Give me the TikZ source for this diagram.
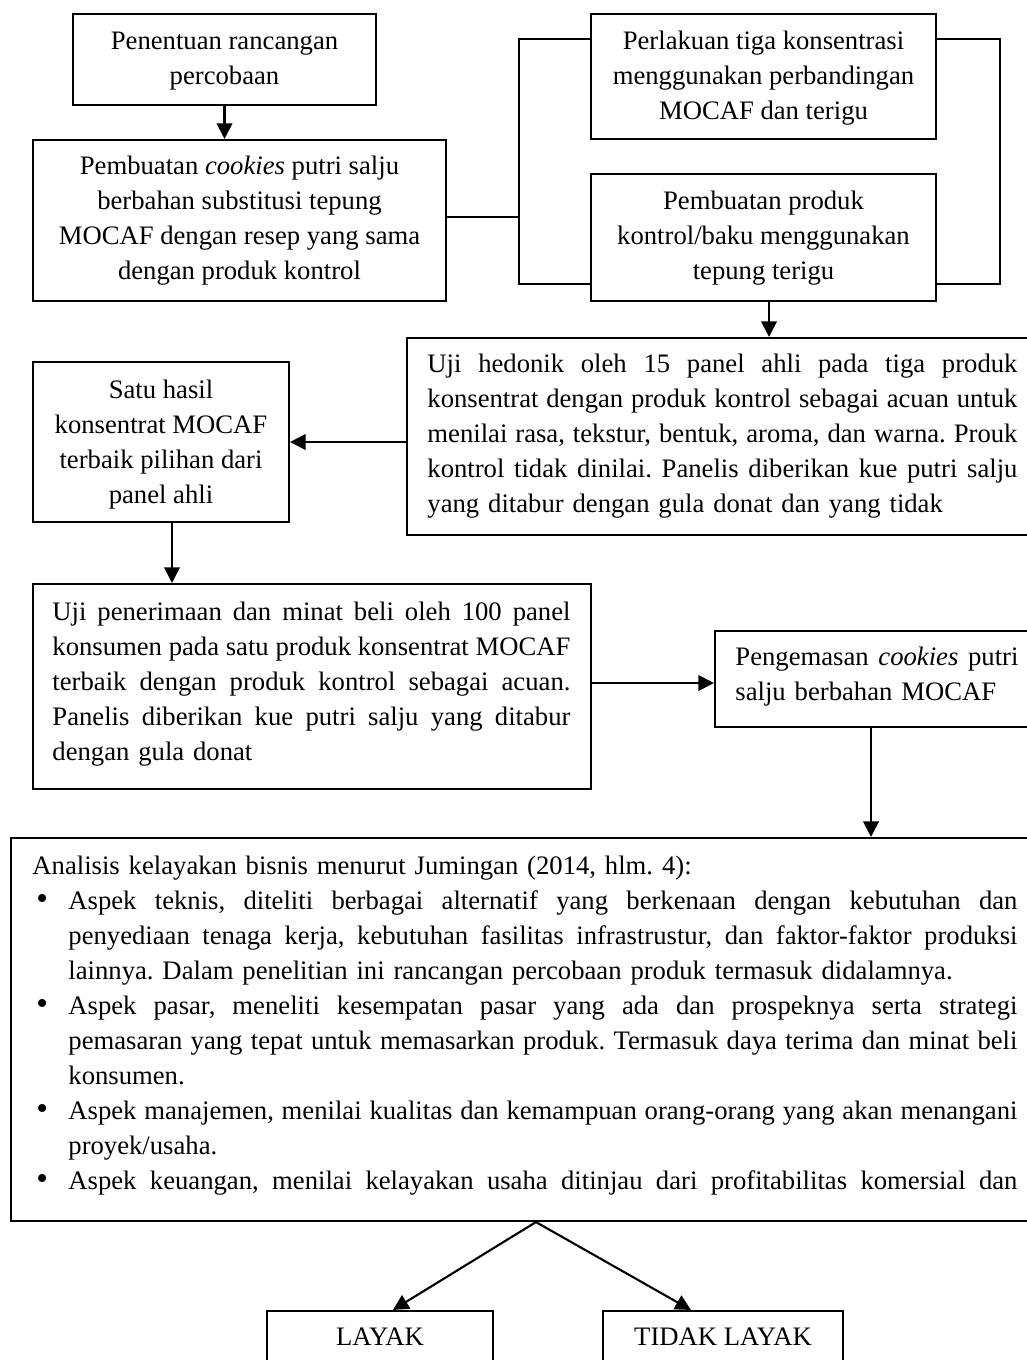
\documentclass[tikz,border=0pt]{standalone}
\usepackage{fontspec}
\setmainfont{Liberation Serif}
\usetikzlibrary{arrows.meta,fit,calc}
\frenchspacing
\newlength{\jw}
\newlength{\bind}\setlength{\bind}{16.2pt}
\newcommand{\jsp}{\spaceskip=0.25em plus 3em minus 0.1em\relax}
\newcommand{\jl}[1]{\hbox to \jw{\jsp #1}\par}
\newcommand{\bdot}{\raisebox{0.2pt}{\fontsize{15pt}{15pt}\selectfont •}}
\newcommand{\bfirst}[1]{\hbox to \jw{\hbox to \bind{\hspace{1.8pt}\bdot\hss}\jsp #1}\par}
\newcommand{\bmid}[1]{\hbox to \jw{\hspace*{\bind}\jsp #1}\par}
\newcommand{\blast}[1]{\hbox to \jw{\hspace*{\bind}#1\hfill}\par}
\begin{document}
\begin{tikzpicture}[x=0.45pt,y=-0.45pt,
 box/.style={draw,line width=0.95pt,inner sep=0pt},
 txt/.style={inner sep=0pt,font=\fontsize{12pt}{15.75pt}\selectfont\setlength{\parskip}{0pt}},
 link/.style={line width=0.95pt},
 arr/.style={line width=0.95pt,-{Triangle[length=7pt,width=7pt]}}]
\useasboundingbox (0,0) rectangle (1027,1360);
\fill[white] (0,0) rectangle (1027,1360);
\clip (0,0) rectangle (1027,1360);
% boxes
\node[box,fit={(73,14)(376,105)}] (b1) {};
\node[box,fit={(33,140)(446,301)}] (b2) {};
\node[box,fit={(591,14)(936,139)}] (b3) {};
\node[box,fit={(591,174)(936,301)}] (b4) {};
\node[box,fit={(407,338)(1040,535)}] (hed) {};
\node[box,fit={(33,362)(289,522)}] (satu) {};
\node[box,fit={(33,584)(591,789)}] (uji) {};
\node[box,fit={(715,631)(1040,727)}] (peng) {};
\node[box,fit={(11,838)(1040,1221)}] (anal) {};
\node[box,fit={(267,1311)(493,1366)}] (layak) {};
\node[box,fit={(603,1311)(843,1366)}] (tlayak) {};
% texts
\node[txt,align=center] (b1t) at (224.5,59.5) {\strut Penentuan rancangan\\percobaan\strut};
\node[txt,align=center] (b2t) at (239.5,220.25) {\strut Pembuatan \textit{cookies} putri salju\\berbahan substitusi tepung\\MOCAF dengan resep yang sama\\dengan produk kontrol\strut};
\node[txt,align=center] (b3t) at (763.5,77.7) {\strut Perlakuan tiga konsentrasi\\menggunakan perbandingan\\MOCAF dan terigu\strut};
\node[txt,align=center] (b4t) at (763.5,237) {\strut Pembuatan produk\\kontrol/baku menggunakan\\tepung terigu\strut};
\node[txt,text width=265.5pt,anchor=west] (hedt) at (427,435) {\setlength{\jw}{265.5pt}\strut\jl{Uji hedonik oleh 15 panel ahli pada tiga produk}\jl{konsentrat dengan produk kontrol sebagai acuan untuk}\jl{menilai rasa, tekstur, bentuk, aroma, dan warna. Prouk}\jl{kontrol tidak dinilai. Panelis diberikan kue putri salju}yang ditabur dengan gula donat dan yang tidak\strut};
\node[txt,align=center] (satut) at (161,444) {\strut Satu hasil\\konsentrat MOCAF\\terbaik pilihan dari\\panel ahli\strut};
\node[txt,text width=233.1pt,anchor=west] (ujit) at (52,683) {\setlength{\jw}{233.1pt}\strut\jl{Uji penerimaan dan minat beli oleh 100 panel}\jl{konsumen pada satu produk konsentrat MOCAF}\jl{terbaik dengan produk kontrol sebagai acuan.}\jl{Panelis diberikan kue putri salju yang ditabur}dengan gula donat\strut};
\node[txt,text width=127.35pt,anchor=west] (pengt) at (735,675.5) {\setlength{\jw}{127.35pt}\strut\jl{Pengemasan \textit{cookies} putri}salju berbahan MOCAF\strut};
\node[txt,text width=443.25pt,anchor=west] (analt) at (32,1025) {\setlength{\jw}{443.25pt}\strut Analisis kelayakan bisnis menurut Jumingan (2014, hlm. 4):\par
\bfirst{Aspek teknis, diteliti berbagai alternatif yang berkenaan dengan kebutuhan dan}
\bmid{penyediaan tenaga kerja, kebutuhan fasilitas infrastrustur, dan faktor-faktor produksi}
\blast{lainnya. Dalam penelitian ini rancangan percobaan produk termasuk didalamnya.}
\bfirst{Aspek pasar, meneliti kesempatan pasar yang ada dan prospeknya serta strategi}
\bmid{pemasaran yang tepat untuk memasarkan produk. Termasuk daya terima dan minat beli}
\blast{konsumen.}
\bfirst{Aspek manajemen, menilai kualitas dan kemampuan orang-orang yang akan menangani}
\blast{proyek/usaha.}
\bfirst{Aspek keuangan, menilai kelayakan usaha ditinjau dari profitabilitas komersial dan\strut}};
\node[txt] (layakt) at (380,1337) {LAYAK};
\node[txt] (tlayakt) at (723,1337) {TIDAK LAYAK};
% connectors
\draw[arr] (b1.south) -- (b1.south |- b2.north);
\coordinate (L1) at (519,39);
\coordinate (L2) at (519,284);
\coordinate (LM) at (519,217);
\coordinate (R1) at (1000,39);
\coordinate (R2) at (1000,284);
\draw[link] (b2.east |- LM) -- (LM);
\draw[link] (b3.west |- L1) -- (L1) -- (L2) -- (b4.west |- L2);
\draw[link] (b3.east |- R1) -- (R1) -- (R2) -- (b4.east |- R2);
\coordinate (a4) at ($(b4.south)+(5.5,0)$);
\draw[arr] (a4) -- (a4 |- hed.north);
\draw[arr] (hed.west |- satu.east) -- (satu.east);
\coordinate (a5) at ($(satu.south)+(11,0)$);
\draw[arr] (a5) -- (a5 |- uji.north);
\coordinate (a6) at ($(uji.east)+(0,-3.5)$);
\draw[arr] (a6) -- (a6 -| peng.west);
\coordinate (a7) at ($(peng.south)+(-6.5,0)$);
\draw[arr] (a7) -- (a7 |- anal.north);
\coordinate (ap) at ($(anal.south west)+(526,0)$);
\draw[arr] (ap) -- ($(layak.north west)+(127,0)$);
\draw[arr] (ap) -- ($(tlayak.north west)+(89,0)$);
\end{tikzpicture}
\end{document}
